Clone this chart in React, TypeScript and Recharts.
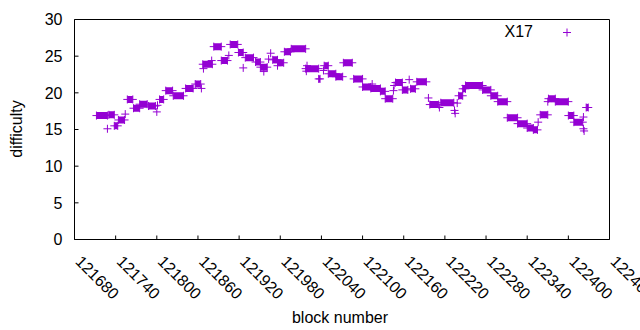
import { ComposedChart, Line, Scatter, XAxis, YAxis } from "recharts"

// runs of equal difficulty (start block, end block, value)
const runStart = [
  121712, 121728, 121730, 121738, 121744, 121754, 121757, 121766, 121775, 121788,
  121800, 121801, 121804, 121813, 121824, 121842, 121856, 121865, 121867, 121868,
  121880, 121883, 121894, 121905, 121907, 121919, 121926, 121929, 121944, 121951,
  121956, 121963, 121966, 121969, 121976, 121976, 121986, 121996, 122017, 122019,
  122018, 122036, 122043, 122044, 122050, 122061, 122072, 122087, 122100, 122114,
  122112, 122126, 122133, 122145, 122146, 122148, 122158, 122168, 122170, 122179,
  122196, 122198, 122212, 122214, 122234, 122235, 122238, 122240, 122246, 122250,
  122275, 122287, 122297, 122311, 122326, 122340, 122349, 122356, 122359, 122370,
  122371, 122381, 122400, 122408, 122422, 122422, 122423, 122426,
]
const runEnd = [
  121728, 121728, 121738, 121743, 121753, 121754, 121765, 121775, 121786, 121798,
  121800, 121801, 121810, 121823, 121839, 121853, 121864, 121865, 121881, 121868,
  121880, 121894, 121903, 121905, 121918, 121926, 121926, 121941, 121951, 121961,
  121956, 121963, 121966, 121976, 121985, 121976, 121995, 122017, 122036, 122019,
  122018, 122038, 122043, 122050, 122061, 122071, 122085, 122100, 122112, 122114,
  122126, 122133, 122144, 122145, 122146, 122158, 122166, 122168, 122177, 122193,
  122196, 122211, 122212, 122233, 122234, 122235, 122238, 122246, 122250, 122275,
  122287, 122297, 122311, 122326, 122340, 122349, 122355, 122356, 122370, 122370,
  122381, 122400, 122408, 122421, 122422, 122422, 122423, 122429,
]
const runValue = [
  16.9, 15.1, 17.0, 15.5, 16.3, 17.1, 19.1, 17.9, 18.45, 18.2,
  17.4, 18.3, 19.1, 20.3, 19.6, 20.6, 21.2, 20.6, 23.9, 23.3,
  24.4, 26.3, 24.4, 25.1, 26.6, 25.5, 23.4, 24.8, 24.2, 23.5,
  22.9, 24.6, 25.4, 24.5, 24.1, 23.7, 25.6, 26.0, 23.3, 23.7,
  22.95, 21.9, 23.05, 23.7, 22.6, 22.2, 24.1, 21.9, 20.8, 21.2,
  20.6, 20.2, 19.2, 20.3, 21.0, 21.4, 20.4, 21.8, 20.55, 21.5,
  19.3, 18.4, 18.0, 18.65, 17.6, 17.2, 18.6, 19.6, 20.55, 21.0,
  20.4, 19.6, 18.8, 16.6, 15.8, 15.2, 14.95, 16.0, 17.0, 18.8,
  19.2, 18.8, 16.9, 16.0, 16.7, 15.1, 14.8, 18.0,
]

const xTicks = [
  121680, 121740, 121800, 121860, 121920, 121980, 122040,
  122100, 122160, 122220, 122280, 122340, 122400, 122460,
]
const yTicks = [0, 5, 10, 15, 20, 25, 30]

const seriesName = "X17"
const color = "#9400d3"
const font = "'Liberation Sans', Arial, sans-serif"

// consecutive blocks overlap into a solid band; a null breaks the band between runs
const runLine = runStart.flatMap((s, i) =>
  runEnd[i] > s
    ? [
        { block: s, difficulty: runValue[i] },
        { block: runEnd[i], difficulty: runValue[i] },
        { block: runEnd[i], difficulty: null },
      ]
    : []
)

const marks = runStart.flatMap((s, i) =>
  runEnd[i] > s
    ? [
        { block: s, difficulty: runValue[i] },
        { block: runEnd[i], difficulty: runValue[i] },
      ]
    : [{ block: s, difficulty: runValue[i] }]
)

const Plus = (props: any) => {
  const { cx, cy } = props
  if (cx == null || cy == null) return <g />
  return (
    <path
      d={`M${cx - 4},${cy}H${cx + 4}M${cx},${cy - 4}V${cy + 4}`}
      stroke={color}
      strokeWidth={1}
      fill="none"
    />
  )
}

const XTick = (props: any) => {
  const { x, y, payload } = props
  return (
    <text
      x={x}
      y={y}
      transform={`rotate(45 ${x} ${y})`}
      textAnchor="start"
      fontSize={16}
      fontFamily={font}
      fill="#000"
    >
      {payload.value}
    </text>
  )
}

const axisStyle = { stroke: "#000", strokeWidth: 1 }

export default function App() {
  return (
    <div style={{ position: "relative", width: 640, height: 330, background: "#fff" }}>
      <style>{`body{margin:0}`}</style>
      <ComposedChart
        width={640}
        height={330}
        margin={{ top: 18.5, right: 29.5, bottom: 89.5, left: 73.5 }}
      >
        <XAxis
          dataKey="block"
          type="number"
          domain={[121680, 122460]}
          ticks={xTicks}
          height={1}
          tickSize={-4}
          tickMargin={27}
          tick={<XTick />}
          axisLine={axisStyle}
          tickLine={axisStyle}
          interval={0}
        />
        <XAxis
          xAxisId="top"
          orientation="top"
          type="number"
          domain={[121680, 122460]}
          ticks={xTicks}
          height={1}
          tickSize={-4}
          tick={false}
          axisLine={axisStyle}
          tickLine={axisStyle}
          interval={0}
        />
        <YAxis
          type="number"
          domain={[0, 30]}
          ticks={yTicks}
          width={1}
          tickSize={-4}
          tickMargin={16}
          tick={{ fill: "#000", fontSize: 16, fontFamily: font }}
          axisLine={axisStyle}
          tickLine={axisStyle}
          interval={0}
        />
        <YAxis
          yAxisId="right"
          orientation="right"
          type="number"
          domain={[0, 30]}
          ticks={yTicks}
          width={1}
          tickSize={-4}
          tick={false}
          axisLine={axisStyle}
          tickLine={axisStyle}
          interval={0}
        />
        <Line
          data={runLine}
          dataKey="difficulty"
          stroke={color}
          strokeWidth={7}
          dot={false}
          activeDot={false}
          connectNulls={false}
          type="linear"
          isAnimationActive={false}
        />
        <Scatter
          data={marks}
          dataKey="difficulty"
          shape={<Plus />}
          isAnimationActive={false}
        />
      </ComposedChart>
      <svg
        width={640}
        height={330}
        style={{ position: "absolute", left: 0, top: 0, pointerEvents: "none" }}
        fontFamily={font}
        fontSize={16}
      >
        <text x={533} y={37} textAnchor="end" fill="#000">
          {seriesName}
        </text>
        <path d="M563,32.5H571M567,28.5V36.5" stroke={color} strokeWidth={1} />
        <text x={340} y={323} textAnchor="middle" fill="#000">
          block number
        </text>
        <text x={22} y={129} textAnchor="middle" fill="#000" transform="rotate(-90 22 129)">
          difficulty
        </text>
      </svg>
    </div>
  )
}
